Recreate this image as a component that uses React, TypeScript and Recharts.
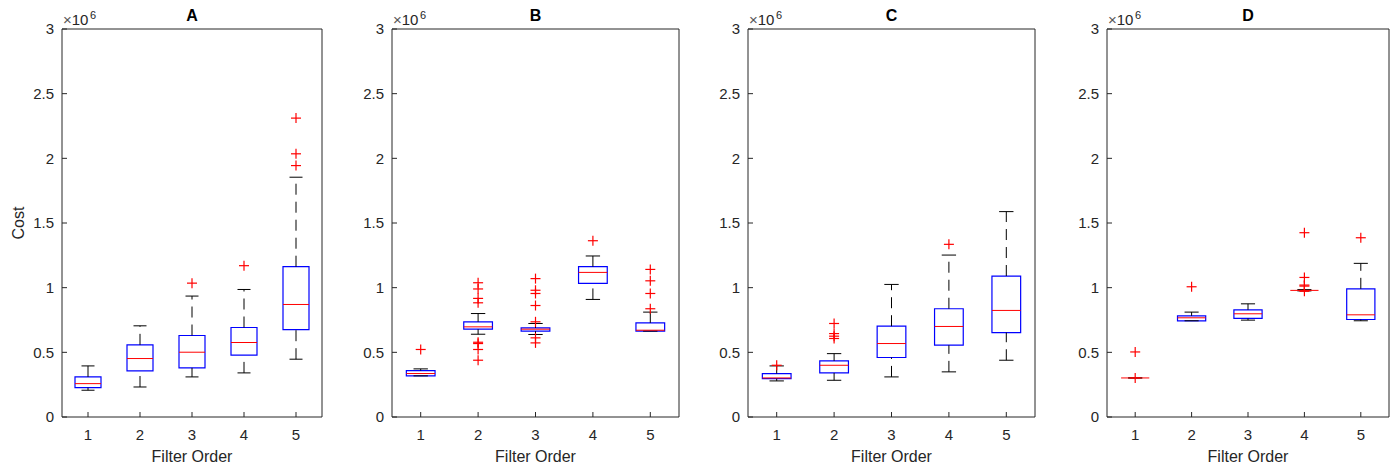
import { Fragment } from "react"
import { ComposedChart, XAxis, YAxis, Scatter, ReferenceArea, ReferenceLine } from "recharts"

const FONT = '"Liberation Sans", Arial, Helvetica, sans-serif'
const AXIS = "#262626"
const BOX = "#0000ff"
const MED = "#ff0000"

// x categories and y ticks (cost in units of 10^6)
const filterOrders = [1, 2, 3, 4, 5]
const costTicks = [0, 0.5, 1, 1.5, 2, 2.5, 3]

// panel A
const aLow = [0.207, 0.232, 0.31, 0.341, 0.447]
const aQ1 = [0.227, 0.356, 0.38, 0.478, 0.676]
const aMed = [0.258, 0.452, 0.501, 0.576, 0.87]
const aQ3 = [0.31, 0.558, 0.63, 0.692, 1.162]
const aHigh = [0.395, 0.705, 0.935, 0.986, 1.854]
const aOut = [[], [], [1.035], [1.17], [1.944, 2.035, 2.311]]

// panel B
const bLow = [0.318, 0.64, 0.638, 0.909, 0.664]
const bQ1 = [0.318, 0.679, 0.664, 1.033, 0.664]
const bMed = [0.336, 0.697, 0.679, 1.118, 0.671]
const bQ3 = [0.359, 0.736, 0.689, 1.162, 0.728]
const bHigh = [0.372, 0.8, 0.723, 1.245, 0.811]
const bOut = [
  [0.522],
  [0.439, 0.522, 0.568, 0.578, 0.883, 0.917, 0.99, 1.038],
  [0.573, 0.612, 0.736, 0.862, 0.955, 0.98, 1.07],
  [1.363],
  [0.837, 0.955, 1.053, 1.141],
]

// panel C
const cLow = [0.279, 0.284, 0.31, 0.349, 0.439]
const cQ1 = [0.297, 0.341, 0.46, 0.555, 0.653]
const cMed = [0.302, 0.4, 0.568, 0.7, 0.824]
const cQ3 = [0.336, 0.434, 0.702, 0.837, 1.09]
const cHigh = [0.395, 0.49, 1.025, 1.252, 1.588]
const cOut = [[0.4], [0.607, 0.625, 0.645, 0.723], [], [1.335], []]

// panel D
const dLow = [0.302, 0.744, 0.749, 0.975, 0.744]
const dQ1 = [0.302, 0.744, 0.762, 0.979, 0.754]
const dMed = [0.302, 0.767, 0.798, 0.979, 0.79]
const dQ3 = [0.302, 0.782, 0.829, 0.979, 0.991]
const dHigh = [0.302, 0.811, 0.875, 0.985, 1.188]
const dOut = [[0.302, 0.503], [1.007], [], [0.972, 1.012, 1.02, 1.079, 1.425], [1.386]]

const panels = [
  { title: "A", low: aLow, q1: aQ1, med: aMed, q3: aQ3, high: aHigh, out: aOut, left: 62, width: 260 },
  { title: "B", low: bLow, q1: bQ1, med: bMed, q3: bQ3, high: bHigh, out: bOut, left: 392, width: 287 },
  { title: "C", low: cLow, q1: cQ1, med: cMed, q3: cQ3, high: cHigh, out: cOut, left: 748, width: 287 },
  { title: "D", low: dLow, q1: dQ1, med: dMed, q3: dQ3, high: dHigh, out: dOut, left: 1107, width: 282 },
]

const HALF = 0.25
const CAP = 0.125

const Plus = (props: any) => {
  const { cx, cy } = props
  if (cx == null || cy == null) return null
  return (
    <g stroke={MED} strokeWidth={1.2}>
      <line x1={cx - 5} y1={cy} x2={cx + 5} y2={cy} />
      <line x1={cx} y1={cy - 5} x2={cx} y2={cy + 5} />
    </g>
  )
}

function BoxPanel({ p }: { p: (typeof panels)[number] }) {
  const outliers = p.out.flatMap((vals, i) => vals.map((v) => ({ x: filterOrders[i], y: v })))
  const tickStyle = { fill: AXIS, fontSize: 15, fontFamily: FONT }
  return (
    <div style={{ position: "absolute", left: p.left - 40, top: 0 }}>
      <ComposedChart width={p.width + 41} height={469} margin={{ top: 28, right: 0, bottom: 0, left: 0 }}>
        <XAxis
          type="number"
          dataKey="x"
          domain={[0.5, 5.5]}
          ticks={filterOrders}
          height={52}
          tickSize={-5}
          tickMargin={17}
          stroke={AXIS}
          tick={tickStyle}
          allowDataOverflow
          label={{ value: "Filter Order", position: "insideBottom", offset: 7, fill: AXIS, fontSize: 16, fontFamily: FONT }}
        />
        <XAxis
          xAxisId="top"
          orientation="top"
          type="number"
          domain={[0.5, 5.5]}
          ticks={filterOrders}
          height={1}
          tickSize={-5}
          tick={false}
          stroke={AXIS}
          allowDataOverflow
        />
        <YAxis
          type="number"
          dataKey="y"
          domain={[0, 3]}
          ticks={costTicks}
          width={40}
          tickSize={-5}
          tickMargin={13}
          stroke={AXIS}
          tick={tickStyle}
          allowDataOverflow
        />
        <YAxis
          yAxisId="right"
          orientation="right"
          type="number"
          domain={[0, 3]}
          ticks={costTicks}
          width={1}
          tickSize={-5}
          tick={false}
          stroke={AXIS}
          allowDataOverflow
        />
        {filterOrders.map((x, i) => (
          <Fragment key={x}>
            <ReferenceLine
              segment={[{ x, y: p.q3[i] }, { x, y: p.high[i] }]}
              stroke="#000"
              strokeDasharray="11 7"
              ifOverflow="visible"
            />
            <ReferenceLine
              segment={[{ x, y: p.low[i] }, { x, y: p.q1[i] }]}
              stroke="#000"
              strokeDasharray="11 7"
              ifOverflow="visible"
            />
            <ReferenceLine
              segment={[{ x: x - CAP, y: p.high[i] }, { x: x + CAP, y: p.high[i] }]}
              stroke="#000"
              ifOverflow="visible"
            />
            <ReferenceLine
              segment={[{ x: x - CAP, y: p.low[i] }, { x: x + CAP, y: p.low[i] }]}
              stroke="#000"
              ifOverflow="visible"
            />
            <ReferenceArea
              x1={x - HALF}
              x2={x + HALF}
              y1={p.q1[i]}
              y2={p.q3[i]}
              fill="none"
              fillOpacity={0}
              stroke={BOX}
              strokeWidth={1.2}
              ifOverflow="visible"
            />
            <ReferenceLine
              segment={[{ x: x - HALF, y: p.med[i] }, { x: x + HALF, y: p.med[i] }]}
              stroke={MED}
              ifOverflow="visible"
            />
          </Fragment>
        ))}
        <Scatter data={outliers} dataKey="y" shape={<Plus />} isAnimationActive={false} />
      </ComposedChart>
    </div>
  )
}

export default function App() {
  return (
    <div style={{ position: "absolute", left: 0, top: 0, width: 1399, height: 469, background: "#fff", fontFamily: FONT, color: AXIS }}>
      {panels.map((p) => (
        <BoxPanel key={p.title} p={p} />
      ))}
      {panels.map((p) => (
        <Fragment key={p.title + "t"}>
          <div
            style={{
              position: "absolute",
              left: p.left,
              width: p.width,
              top: 8,
              textAlign: "center",
              fontSize: 16,
              lineHeight: "16px",
              fontWeight: "bold",
              color: "#000",
            }}
          >
            {p.title}
          </div>
          <div style={{ position: "absolute", left: p.left + 1, top: 12, fontSize: 15, lineHeight: "15px", whiteSpace: "nowrap" }}>
            <span style={{ color: "#555" }}>×</span>10
          </div>
          <div style={{ position: "absolute", left: p.left + 28, top: 10, fontSize: 11, lineHeight: "11px" }}>6</div>
        </Fragment>
      ))}
      <div
        style={{
          position: "absolute",
          left: 19 - 50,
          top: 223 - 10,
          width: 100,
          height: 20,
          lineHeight: "20px",
          textAlign: "center",
          fontSize: 16,
          transform: "rotate(-90deg)",
        }}
      >
        Cost
      </div>
    </div>
  )
}
